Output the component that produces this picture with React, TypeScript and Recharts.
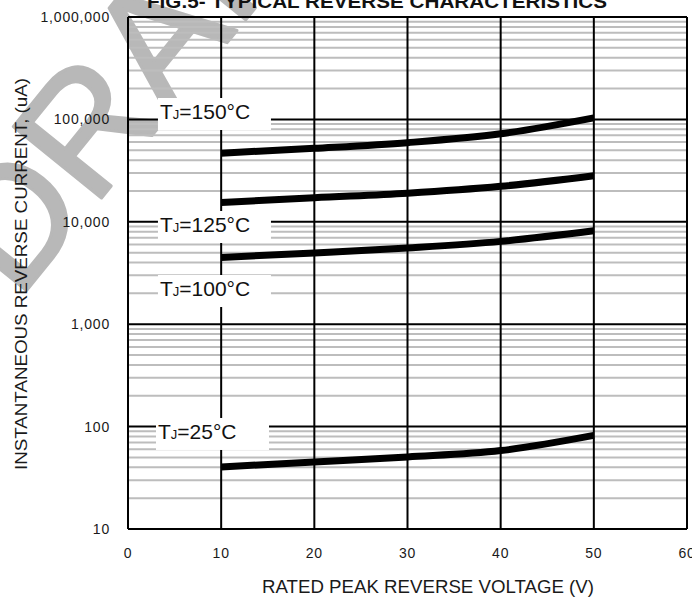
import React from 'react';
import { LineChart, Line, XAxis, YAxis, ReferenceLine, ReferenceDot } from 'recharts';

const FONT = '"Liberation Sans", Arial, Helvetica, sans-serif';

// Rated peak reverse voltage (V)
const voltage = [10, 20, 30, 40, 50];
// Instantaneous reverse current (uA) for each junction temperature
const tj150 = [46800, 52200, 59300, 72300, 103500];
const tj125 = [15400, 17200, 19000, 22200, 28200];
const tj100 = [4490, 4970, 5560, 6440, 8170];
const tj25 = [40.4, 45.1, 50.5, 58.3, 82.0];

const seriesKeys = ['t150', 't125', 't100', 't25'];

const xTicks = [0, 10, 20, 30, 40, 50, 60];
const yTicks = [10, 100, 1000, 10000, 100000, 1000000];
const decades = [10, 100, 1000, 10000, 100000];
const minorMultipliers = [2, 3, 4, 5, 6, 7, 8, 9];
const minorTicks = decades.flatMap((d) => minorMultipliers.map((m) => m * d));

// Curve labels: temperature text and anchor (voltage, current) for each
const labelTemps = ['150°C', '125°C', '100°C', '25°C'];
const labelVolt = [3.43, 3.43, 3.43, 3.22];
const labelCurr = [100900, 7950, 1885, 75.7];

const data = voltage.map((v, i) => ({
  v,
  t150: tj150[i],
  t125: tj125[i],
  t100: tj100[i],
  t25: tj25[i],
}));

const fmt = (n: number) => n.toLocaleString('en-US');

const YTick = (props: any) => {
  const { x, y, payload } = props;
  return (
    <text x={x} y={y} dy={5} textAnchor="end" fontSize={14} letterSpacing={0.8} fontFamily={FONT} fill="#1a1a1a">
      {fmt(payload.value)}
    </text>
  );
};

const XTick = (props: any) => {
  const { x, y, payload } = props;
  return (
    <text x={x} y={y} dy={29} textAnchor="middle" fontSize={14} letterSpacing={0.8} fontFamily={FONT} fill="#1a1a1a">
      {payload.value}
    </text>
  );
};

const makeLabelShape = (temp: string) => (props: any) => {
  const { cx, cy } = props;
  return (
    <g>
      <rect x={cx - 2} y={cy - 21} width={113} height={32} fill="#fff" />
      <text x={cx} y={cy} fontSize={21} fontFamily={FONT} fill="#111">
        T<tspan fontSize={13}>J</tspan>
        <tspan fontSize={21}>={temp}</tspan>
      </text>
    </g>
  );
};

export default function App() {
  return (
    <div style={{ position: 'absolute', left: 0, top: 0, width: 692, height: 597, background: '#fff', overflow: 'hidden' }}>
      <svg width={692} height={597} style={{ position: 'absolute', left: 0, top: 0 }}>
        <text
          x={18}
          y={301}
          transform="rotate(-51 18 301)"
          fontSize={165}
          fontFamily={FONT}
          fill="#b8b8b8"
          stroke="#b8b8b8"
          strokeWidth={3}
          strokeLinejoin="round"
        >
          DRAFT
        </text>
        <text x={377} y={8} textAnchor="middle" fontSize={18} fontWeight="bold" fontFamily={FONT} fill="#111" textLength={460} lengthAdjust="spacingAndGlyphs">
          FIG.5- TYPICAL REVERSE CHARACTERISTICS
        </text>
        <text transform="translate(27,274) rotate(-90)" textAnchor="middle" fontSize={17} fontFamily={FONT} fill="#1a1a1a" textLength={392} lengthAdjust="spacingAndGlyphs">
          INSTANTANEOUS REVERSE CURRENT, (uA)
        </text>
        <text x={428} y={593} textAnchor="middle" fontSize={18} fontFamily={FONT} fill="#1a1a1a" textLength={332} lengthAdjust="spacingAndGlyphs">
          RATED PEAK REVERSE VOLTAGE (V)
        </text>
      </svg>
      <div style={{ position: 'absolute', left: 0, top: 0 }}>
        <LineChart width={692} height={597} data={data} margin={{ top: 17, right: 5, bottom: 0, left: 0 }}>
          <XAxis
            dataKey="v"
            type="number"
            domain={[0, 60]}
            ticks={xTicks}
            height={68}
            axisLine={false}
            tickLine={false}
            tickSize={0}
            tickMargin={0}
            tick={<XTick />}
            interval={0}
            allowDataOverflow
          />
          <YAxis
            type="number"
            scale="log"
            domain={[10, 1000000]}
            ticks={yTicks}
            width={128}
            axisLine={false}
            tickLine={false}
            tickSize={0}
            tickMargin={18}
            tick={<YTick />}
            interval={0}
            allowDataOverflow
          />
          {minorTicks.map((t) => (
            <ReferenceLine key={'m' + t} y={t} stroke="#bdbdbd" strokeWidth={2} />
          ))}
          {yTicks.map((t) => (
            <ReferenceLine key={'M' + t} y={t} stroke="#000" strokeWidth={2} />
          ))}
          {xTicks.map((t) => (
            <ReferenceLine key={'v' + t} x={t} stroke="#000" strokeWidth={2} />
          ))}
          {seriesKeys.map((k) => (
            <Line
              key={k}
              dataKey={k}
              type="monotone"
              stroke="#000"
              strokeWidth={7}
              dot={false}
              activeDot={false}
              isAnimationActive={false}
            />
          ))}
          {labelTemps.map((t, i) => (
            <ReferenceDot
              key={'l' + t}
              x={labelVolt[i]}
              y={labelCurr[i]}
              r={1}
              shape={makeLabelShape(t)}
            />
          ))}
        </LineChart>
      </div>
    </div>
  );
}
